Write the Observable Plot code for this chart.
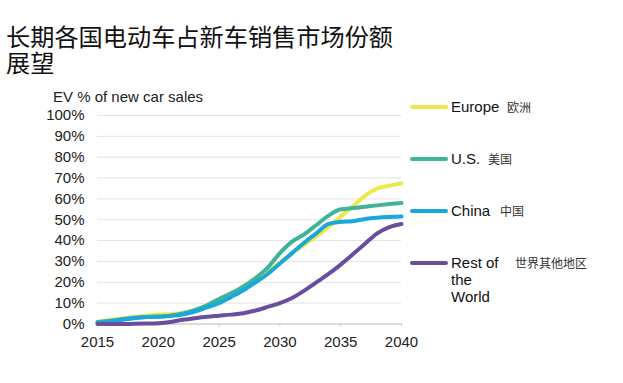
<!DOCTYPE html>
<html>
<head>
<meta charset="utf-8">
<script src="https://cdn.jsdelivr.net/npm/d3@7"></script>
<script src="https://cdn.jsdelivr.net/npm/@observablehq/plot@0.6"></script>
<style>
  body { margin: 0; background: #fff; }
  #wrap { position: relative; width: 623px; height: 383px; overflow: hidden; font-family: "Liberation Sans", Arial, sans-serif; }
  .title { position: absolute; left: 6px; font-family: "Noto Sans CJK SC", sans-serif; font-size: 24.2px; line-height: 26px; height: 26px; color: #111; white-space: nowrap; }
  #ylabel { position: absolute; left: 53px; top: 88px; font-size: 15px; color: #222; white-space: nowrap; }
  #legend { position: absolute; left: 410px; top: 0; }
  .sw { position: absolute; left: 0; width: 38px; height: 4px; border-radius: 2px; }
  .lab { position: absolute; left: 41px; font-size: 15px; color: #111; line-height: 17px; white-space: nowrap; }
  .zh { position: absolute; font-family: "Noto Sans CJK SC", sans-serif; font-size: 12px; color: #333; white-space: nowrap; }
  svg { position: absolute; left: 0; top: 0; }
</style>
</head>
<body>
<div id="wrap">
  <div id="chart"></div>
  <div class="title" style="top:23px">长期各国电动车占新车销售市场份额</div>
  <div class="title" style="top:49px">展望</div>
  <div id="ylabel">EV % of new car sales</div>
  <div id="legend"></div>
</div>
<script>
const years = [2015,2016,2017,2018,2019,2020,2021,2022,2023,2024,2025,2026,2027,2028,2029,2030,2031,2032,2033,2034,2035,2036,2037,2038,2039,2040];
const europe = [1,1.8,2.6,3.4,4,4.5,4.8,5.3,6.8,8.8,11,13.8,17,20.5,25,29.5,34,38,42,46.5,51.5,56.5,61.5,65,66.3,67.5];
const us     = [1,1.6,2.3,3,3.4,3.6,4,5,6.6,9,12,14.8,18,22,27,34,39.5,43,47.5,52,55,55.6,56.2,56.9,57.5,58];
const china  = [0.5,1.2,2,2.8,3.3,3.5,3.9,4.6,6,8,10,13,16.2,20,24,29,34,39,43.5,48,49,49.3,50.4,51,51.3,51.5];
const row    = [0,0,0,0.1,0.2,0.4,1,2,2.8,3.5,4,4.5,5.2,6.5,8.2,10,12.5,16,20,24,28.5,33.5,38.5,43.5,46.5,48];
const seriesNames = ["Europe","U.S.","China","Rest of the World"];
const seriesZh = ["欧洲","美国","中国","世界其他地区"];
const seriesColors = ["#eee84a","#40b39b","#1aa8dc","#6a4d9d"];
const yTicks = [0,10,20,30,40,50,60,70,80,90,100];
const xTicks = [2015,2020,2025,2030,2035,2040];

const allSeries = [europe, us, china, row];
const data = [];
allSeries.forEach((vals, si) => vals.forEach((v, i) => data.push({year: years[i], value: v, series: seriesNames[si]})));

const chart = Plot.plot({
  width: 623, height: 383,
  marginLeft: 97, marginRight: 222, marginTop: 115, marginBottom: 59.5,
  x: {domain: [2015, 2040], label: null},
  y: {domain: [0, 100], label: null},
  color: {domain: seriesNames, range: seriesColors},
  style: {fontFamily: "'Liberation Sans', Arial, sans-serif", fontSize: "15px", color: "#222", background: "transparent"},
  marks: [
    Plot.gridY(yTicks, {stroke: "#e3e3e3", strokeOpacity: 1}),
    Plot.ruleY([0], {stroke: "#c8c8c8"}),
    Plot.axisY(yTicks, {tickSize: 0, tickPadding: 13, tickFormat: d => d + "%", fontSize: 15, fill: "#222", label: null}),
    Plot.axisX(xTicks, {tickSize: 3, tickPadding: 9, tickFormat: d => String(d), fontSize: 15, fill: "#222", stroke: "#c8c8c8", label: null}),
    Plot.line(data, {x: "year", y: "value", z: "series", stroke: "series", strokeWidth: 4, curve: "monotone-x"})
  ]
});
document.getElementById("chart").appendChild(chart);

// legend
const legendRows = [
  {y: 106.5, lines: ["Europe"], zhX: 97},
  {y: 158.5, lines: ["U.S."], zhX: 78},
  {y: 210.5, lines: ["China"], zhX: 90},
  {y: 262.5, lines: ["Rest of", "the", "World"], zhX: 105}
];
const leg = document.getElementById("legend");
legendRows.forEach((r, i) => {
  const sw = document.createElement("div");
  sw.className = "sw";
  sw.style.top = (r.y - 2) + "px";
  sw.style.background = seriesColors[i];
  leg.appendChild(sw);
  const lab = document.createElement("div");
  lab.className = "lab";
  lab.style.top = (r.y - 9) + "px";
  lab.innerHTML = r.lines.join("<br>");
  leg.appendChild(lab);
  const zh = document.createElement("div");
  zh.className = "zh";
  zh.style.left = r.zhX + "px";
  zh.style.top = (r.y - 9) + "px";
  zh.textContent = seriesZh[i];
  leg.appendChild(zh);
});
</script>
</body>
</html>
